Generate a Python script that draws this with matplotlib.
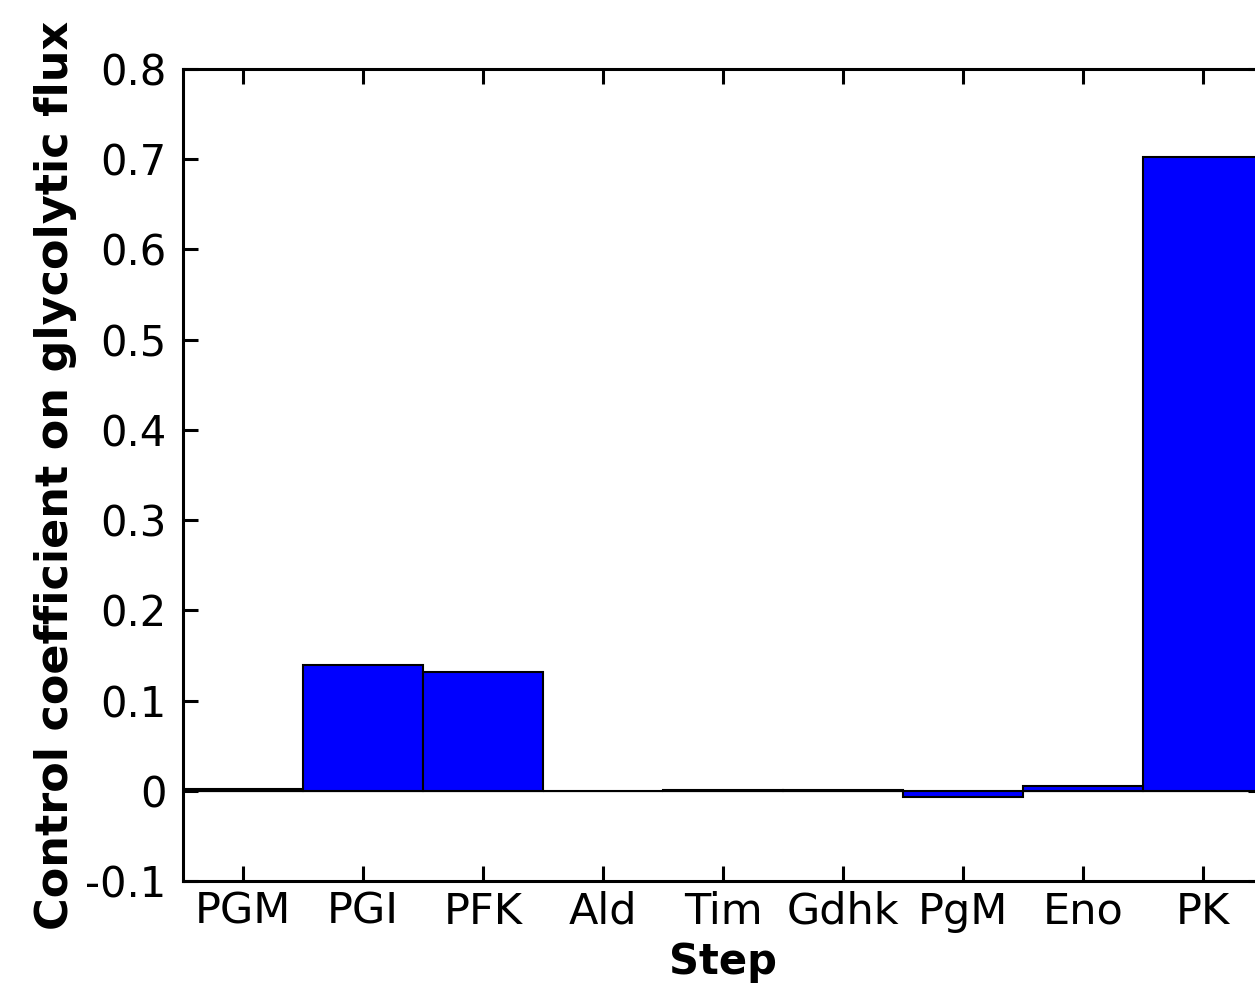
import matplotlib
matplotlib.use("Agg")
import matplotlib.pyplot as plt
import numpy as np

steps = ["PGM", "PGI", "PFK", "Ald", "Tim", "Gdhk", "PgM", "Eno", "PK"]
control_coeff = [0.002, 0.139, 0.132, 0.0, 0.001, 0.001, -0.007, 0.005, 0.702]
yticks = [-0.1, 0, 0.1, 0.2, 0.3, 0.4, 0.5, 0.6, 0.7, 0.8]
ytick_labels = ["-0.1", "0", "0.1", "0.2", "0.3", "0.4", "0.5", "0.6", "0.7", "0.8"]

plt.rcParams['font.family'] = ['DejaVu Sans']

fig = plt.figure(figsize=(12.55, 9.83), dpi=100)
ax = fig.add_axes([183/1255, (983-881)/983, (1263-183)/1255, (881-69)/983])

x = np.arange(len(steps))
ax.axhline(0, color='#999999', lw=1.0, zorder=1)
ax.bar(x, control_coeff, width=1.0, color='#0000ff', edgecolor='black', linewidth=1.5, zorder=2)

ax.set_xlim(-0.5, len(steps) - 0.5)
ax.set_ylim(-0.1, 0.8)
ax.set_xticks(x)
ax.set_xticklabels(steps)
ax.set_yticks(yticks)
ax.set_yticklabels(ytick_labels)

ax.tick_params(axis='both', direction='in', length=11, width=2.2,
               top=True, right=True)
ax.tick_params(axis='x', pad=7, labelsize=31)
ax.tick_params(axis='y', pad=12, labelsize=30)
for s in ax.spines.values():
    s.set_linewidth(2.2)

ax.set_xlabel("Step", fontsize=30, fontweight='bold', labelpad=6)
ax.set_ylabel("Control coefficient on glycolytic flux", fontsize=32, fontweight='bold', labelpad=6)

fig.savefig("out.png", dpi=100)
